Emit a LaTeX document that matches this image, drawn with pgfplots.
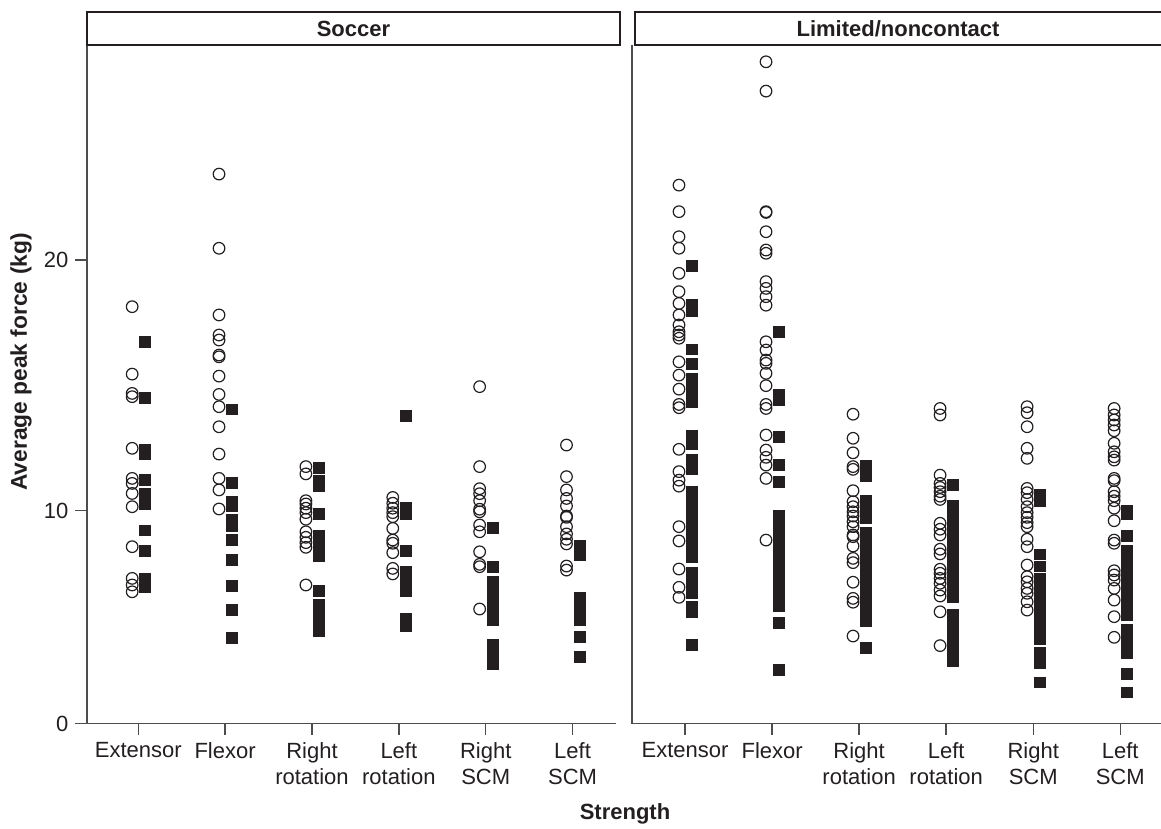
\documentclass[border=0pt]{standalone}
\usepackage{fontspec}
\setmainfont{Liberation Sans}
\usepackage{pgfplots}
\usepackage{pgfplotstable}
\pgfplotsset{compat=1.18}
\definecolor{ink}{HTML}{231F20}
\definecolor{axl}{HTML}{4D4D4D}
\newcommand\lbl{\fontsize{11pt}{13.3pt}\selectfont}
\newcommand\lblb{\fontsize{11pt}{13.3pt}\selectfont\bfseries}
\newcommand\lblby{\fontsize{11.4pt}{13.6pt}\selectfont\bfseries}

% Soccer: open circles
\pgfplotstableread{
cat val
0 18.14
0 15.45
0 14.68
0 14.55
0 12.49
0 11.29
0 11.09
0 10.69
0 10.16
0 8.31
0 6.82
0 6.51
0 6.19
1 23.43
1 20.47
1 17.81
1 17.01
1 16.81
1 16.21
1 16.14
1 15.37
1 14.64
1 14.15
1 13.35
1 12.26
1 11.29
1 10.83
1 10.07
2 11.76
2 11.47
2 10.40
2 10.27
2 10.10
2 9.91
2 9.60
2 9.01
2 8.75
2 8.50
2 8.28
2 6.51
3 10.53
3 10.30
3 10.10
3 9.91
3 9.72
3 9.17
3 8.62
3 8.47
3 8.03
3 7.29
3 7.03
4 14.95
4 11.76
4 10.88
4 10.68
4 10.40
4 10.06
4 9.95
4 9.33
4 9.01
4 8.07
4 7.48
4 7.37
4 5.38
5 12.62
5 11.36
5 10.83
5 10.49
5 10.19
5 9.75
5 9.69
5 9.25
5 8.91
5 8.66
5 8.44
5 7.40
5 7.21
}\soccerC

% Soccer: filled squares
\pgfplotstableread{
cat val
0 16.74
0 14.51
0 12.45
0 12.26
0 11.22
0 10.66
0 10.27
0 9.08
0 8.12
0 6.78
0 6.40
1 14.04
1 11.12
1 10.35
1 10.20
1 9.59
1 9.30
1 8.62
1 7.68
1 6.46
1 5.33
1 4.03
2 11.72
2 11.19
2 11.00
2 9.86
2 8.84
2 8.36
2 7.89
2 6.24
2 5.60
2 5.18
2 4.76
2 4.33
3 13.79
3 10.12
3 9.85
3 8.12
3 7.12
3 6.66
3 6.21
3 4.94
3 4.60
4 9.21
4 7.35
4 6.65
4 6.22
4 5.77
4 5.32
4 4.88
4 3.72
4 3.27
4 2.80
5 8.37
5 7.93
5 5.90
5 5.39
5 4.88
5 4.08
5 3.13
}\soccerS

% Limited/noncontact: open circles
\pgfplotstableread{
cat val
0 22.99
0 21.93
0 20.93
0 20.47
0 19.47
0 18.74
0 18.27
0 17.81
0 17.41
0 17.14
0 17.01
0 16.88
0 15.94
0 15.41
0 14.85
0 14.24
0 14.11
0 12.45
0 11.56
0 11.22
0 10.98
0 9.25
0 8.58
0 7.26
0 6.40
0 5.93
1 27.91
1 26.74
1 21.93
1 21.90
1 21.13
1 20.40
1 20.27
1 19.14
1 18.87
1 18.54
1 18.20
1 16.74
1 16.41
1 16.01
1 15.88
1 15.48
1 14.99
1 14.24
1 14.08
1 13.02
1 12.42
1 12.13
1 11.82
1 11.29
1 8.62
2 13.85
2 12.89
2 12.31
2 11.76
2 11.65
2 10.80
2 10.36
2 10.16
2 9.95
2 9.75
2 9.48
2 9.25
2 8.86
2 8.78
2 8.34
2 7.76
2 7.56
2 6.64
2 5.88
2 5.70
2 4.11
3 14.08
3 13.82
3 11.42
3 11.09
3 10.93
3 10.76
3 10.58
3 10.45
3 9.41
3 9.13
3 8.86
3 8.19
3 7.97
3 7.25
3 7.06
3 6.82
3 6.59
3 6.27
3 5.99
3 5.25
3 3.66
4 14.15
4 13.91
4 13.35
4 12.49
4 12.09
4 10.89
4 10.72
4 10.45
4 10.16
4 9.91
4 9.69
4 9.44
4 9.25
4 8.66
4 8.31
4 7.45
4 6.90
4 6.66
4 6.35
4 6.12
4 5.72
4 5.33
5 14.08
5 13.82
5 13.62
5 13.42
5 13.19
5 12.69
5 12.35
5 12.15
5 12.02
5 11.29
5 11.20
5 10.76
5 10.58
5 10.40
5 10.10
5 9.53
5 8.62
5 8.47
5 7.18
5 6.98
5 6.74
5 6.35
5 5.80
5 5.02
5 4.05
}\limC

% Limited/noncontact: filled squares
\pgfplotstableread{
cat val
0 19.77
0 18.20
0 17.97
0 16.44
0 15.85
0 15.27
0 14.80
0 14.33
0 13.00
0 12.68
0 12.05
0 11.66
0 10.75
0 10.31
0 9.86
0 9.36
0 8.85
0 8.34
0 7.84
0 7.06
0 6.59
0 6.12
0 5.47
0 5.23
0 3.69
1 17.12
1 14.64
1 14.40
1 12.96
1 11.82
1 11.15
1 9.75
1 9.22
1 8.70
1 8.17
1 7.65
1 7.12
1 6.59
1 6.07
1 5.54
1 4.71
1 2.52
2 11.78
2 11.40
2 10.39
2 10.03
2 9.66
2 8.94
2 8.43
2 7.91
2 7.40
2 6.88
2 6.37
2 5.86
2 5.34
2 4.83
2 3.55
3 11.03
3 10.18
3 9.69
3 9.15
3 8.61
3 8.08
3 7.54
3 7.01
3 6.47
3 5.93
3 5.10
3 4.56
3 4.02
3 3.49
3 2.95
4 10.62
4 10.40
4 7.95
4 7.38
4 6.81
4 6.25
4 5.68
4 5.11
4 4.54
4 3.97
4 3.33
4 2.83
4 1.93
5 9.99
5 9.85
5 8.82
5 8.11
5 7.61
5 7.11
5 6.61
5 6.11
5 5.61
5 5.11
5 4.39
5 3.84
5 3.30
5 2.32
5 1.46
}\limS

\pgfplotsset{
  panel/.style={
    scale only axis,
    height=339.25pt,
    axis x line*=bottom,
    axis y line*=left,
    axis line style={-, axl, line width=0.7pt},
    tick style={axl, line width=0.7pt},
    tick align=outside,
    major tick length=5.8pt,
    ymin=0, ymax=28.58,
    y coord trafo/.code={\pgfmathparse{(##1<=10)*21.28*##1+(##1>10)*(212.8+25.07*(##1-10))}},
    y coord inv trafo/.code={\pgfmathparse{(##1<=212.8)*##1/21.28+(##1>212.8)*(10+(##1-212.8)/25.07)}},
    xtick={0,1,2,3,4,5},
    xticklabels={Extensor,Flexor,{Right\\rotation},{Left\\rotation},{Right\\SCM},{Left\\SCM}},
    xticklabel style={align=center, font=\lbl, text=ink},
    yticklabel style={font=\lbl, text=ink},
    clip=false,
  },
  circ/.style={only marks, mark=o, mark size=2.9pt, ink, line width=0.6pt},
  sq/.style={only marks, mark=square*, mark size=2.7pt, ink, mark options={line width=0.4pt, fill=ink, draw=ink}},
}

\begin{document}
\begin{tikzpicture}
\useasboundingbox (0pt,0pt) rectangle (580.5pt,414.5pt);

\begin{axis}[panel,
  at={(43.5pt,52.75pt)}, anchor=south west,
  width=264.5pt,
  xmin=-0.59, xmax=5.50,
  ytick={0,10,20}, yticklabels={0,10,20},
]
\addplot[circ] table[x expr=\thisrow{cat}-0.07, y=val]{\soccerC};
\addplot[sq] table[x expr=\thisrow{cat}+0.08, y=val]{\soccerS};
\end{axis}

\begin{axis}[panel,
  at={(316pt,52.75pt)}, anchor=south west,
  width=265pt,
  xmin=-0.61, xmax=5.48,
  ytick=\empty,
]
\addplot[circ] table[x expr=\thisrow{cat}-0.07, y=val]{\limC};
\addplot[sq] table[x expr=\thisrow{cat}+0.08, y=val]{\limS};
\end{axis}

\draw[ink, line width=0.75pt] (43.5pt,392pt) rectangle (310pt,408.5pt);
\node[font=\lblb, text=ink] at (176.75pt,400.25pt) {Soccer};
\draw[ink, line width=0.75pt] (317.5pt,392pt) rectangle (582pt,408.5pt);
\node[font=\lblb, text=ink] at (449pt,400.25pt) {Limited/noncontact};

\node[font=\lblby, text=ink, rotate=90] at (10.5pt,233.5pt) {Average peak force (kg)};
\node[font=\lblb, text=ink] at (312.5pt,7.5pt) {Strength};
\end{tikzpicture}
\end{document}
